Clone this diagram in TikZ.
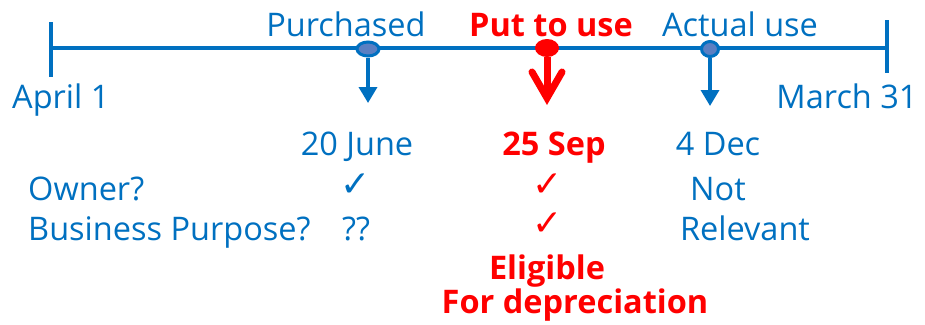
\documentclass[tikz,border=0pt]{standalone}
\usepackage{fontspec}
\setmainfont{Open Sans}
\newfontfamily\symfont{DejaVu Sans}
\usetikzlibrary{arrows.meta,shapes.geometric}
\definecolor{tblue}{HTML}{0070C0}
\definecolor{tdot}{HTML}{5B7FC2}
\definecolor{tred}{HTML}{FF0000}
\begin{document}
\begin{tikzpicture}[x=1pt,y=-1pt,
  btxt/.style={text=tblue,font=\fontsize{32.5}{36}\selectfont,inner sep=0pt,anchor=base},
  rtxt/.style={text=tred,font=\fontsize{32.5}{36}\selectfont\bfseries,inner sep=0pt,anchor=base},
  bline/.style={draw=tblue,line width=4pt},
  bdot/.style={ellipse,draw=tblue,fill=tdot,line width=3pt,inner sep=0pt},
  rdot/.style={ellipse,fill=tred,inner sep=0pt,minimum width=24pt,minimum height=18pt},
  barrow/.style={draw=tblue,line width=3.5pt,-{Triangle[width=18pt,length=16pt]}},
  chk/.style={font=\symfont\fontsize{36}{40}\selectfont,inner sep=0pt}
]
\useasboundingbox (0,0) rectangle (925,324);
% timeline
\coordinate (tl) at (51,48);
\coordinate (tr) at (887,48);
\draw[bline] (tl) -- (tr);
\coordinate (tlt) at (51,22); \coordinate (tlb) at (51,77);
\coordinate (trt) at (887,20); \coordinate (trb) at (887,73);
\draw[bline] (tlt) -- (tlb);
\draw[bline] (trt) -- (trb);
% dots
\node[bdot,minimum width=22pt,minimum height=14pt] (d1) at (368,49) {};
\node[rdot] (d2) at (547,48) {};
\node[bdot,minimum width=17pt,minimum height=15pt] (d3) at (710,49) {};
% arrows
\coordinate (a1) at (368,103);
\coordinate (a3) at (710,106);
\draw[barrow] (d1.south) -- (a1);
\draw[barrow] (d3.south) -- (a3);
\coordinate (a2) at (547,98);
\draw[draw=tred,line width=7pt] (d2.south) -- (a2);
\coordinate (c2l) at (532,72);
\coordinate (c2r) at (562,72);
\draw[draw=tred,line width=7pt,line cap=round,line join=miter] (c2l) -- (a2) -- (c2r);
% labels
\node[btxt] (purch) at (346,36) {Purchased};
\node[rtxt] (put) at (551,36) {Put to use};
\node[btxt] (act) at (740,36) {Actual use};
\node[btxt,anchor=base west] (apr) at (12,108) {April 1};
\node[btxt] (mar) at (847,108) {March 31};
\node[btxt] (jun) at (357,155) {20 June};
\node[rtxt] (sep) at (554,155) {25 Sep};
\node[btxt] (dec) at (718,155) {4 Dec};
\node[btxt,anchor=base west] (own) at (28,200) {Owner?};
\node[btxt,anchor=base west] (bus) at (28,240) {Business Purpose?};
\node[chk,text=tblue] (ck1) at (356,185) {✓};
\node[btxt] (qq) at (356,240) {??};
\node[chk,text=tred] (ck2) at (548,185) {✓};
\node[chk,text=tred] (ck3) at (548,224) {✓};
\node[btxt] (not) at (718,200) {Not};
\node[btxt] (rel) at (745,240) {Relevant};
\node[rtxt] (eli) at (547,279) {Eligible};
\node[rtxt] (dep) at (575,313) {For depreciation};
\end{tikzpicture}
\end{document}
